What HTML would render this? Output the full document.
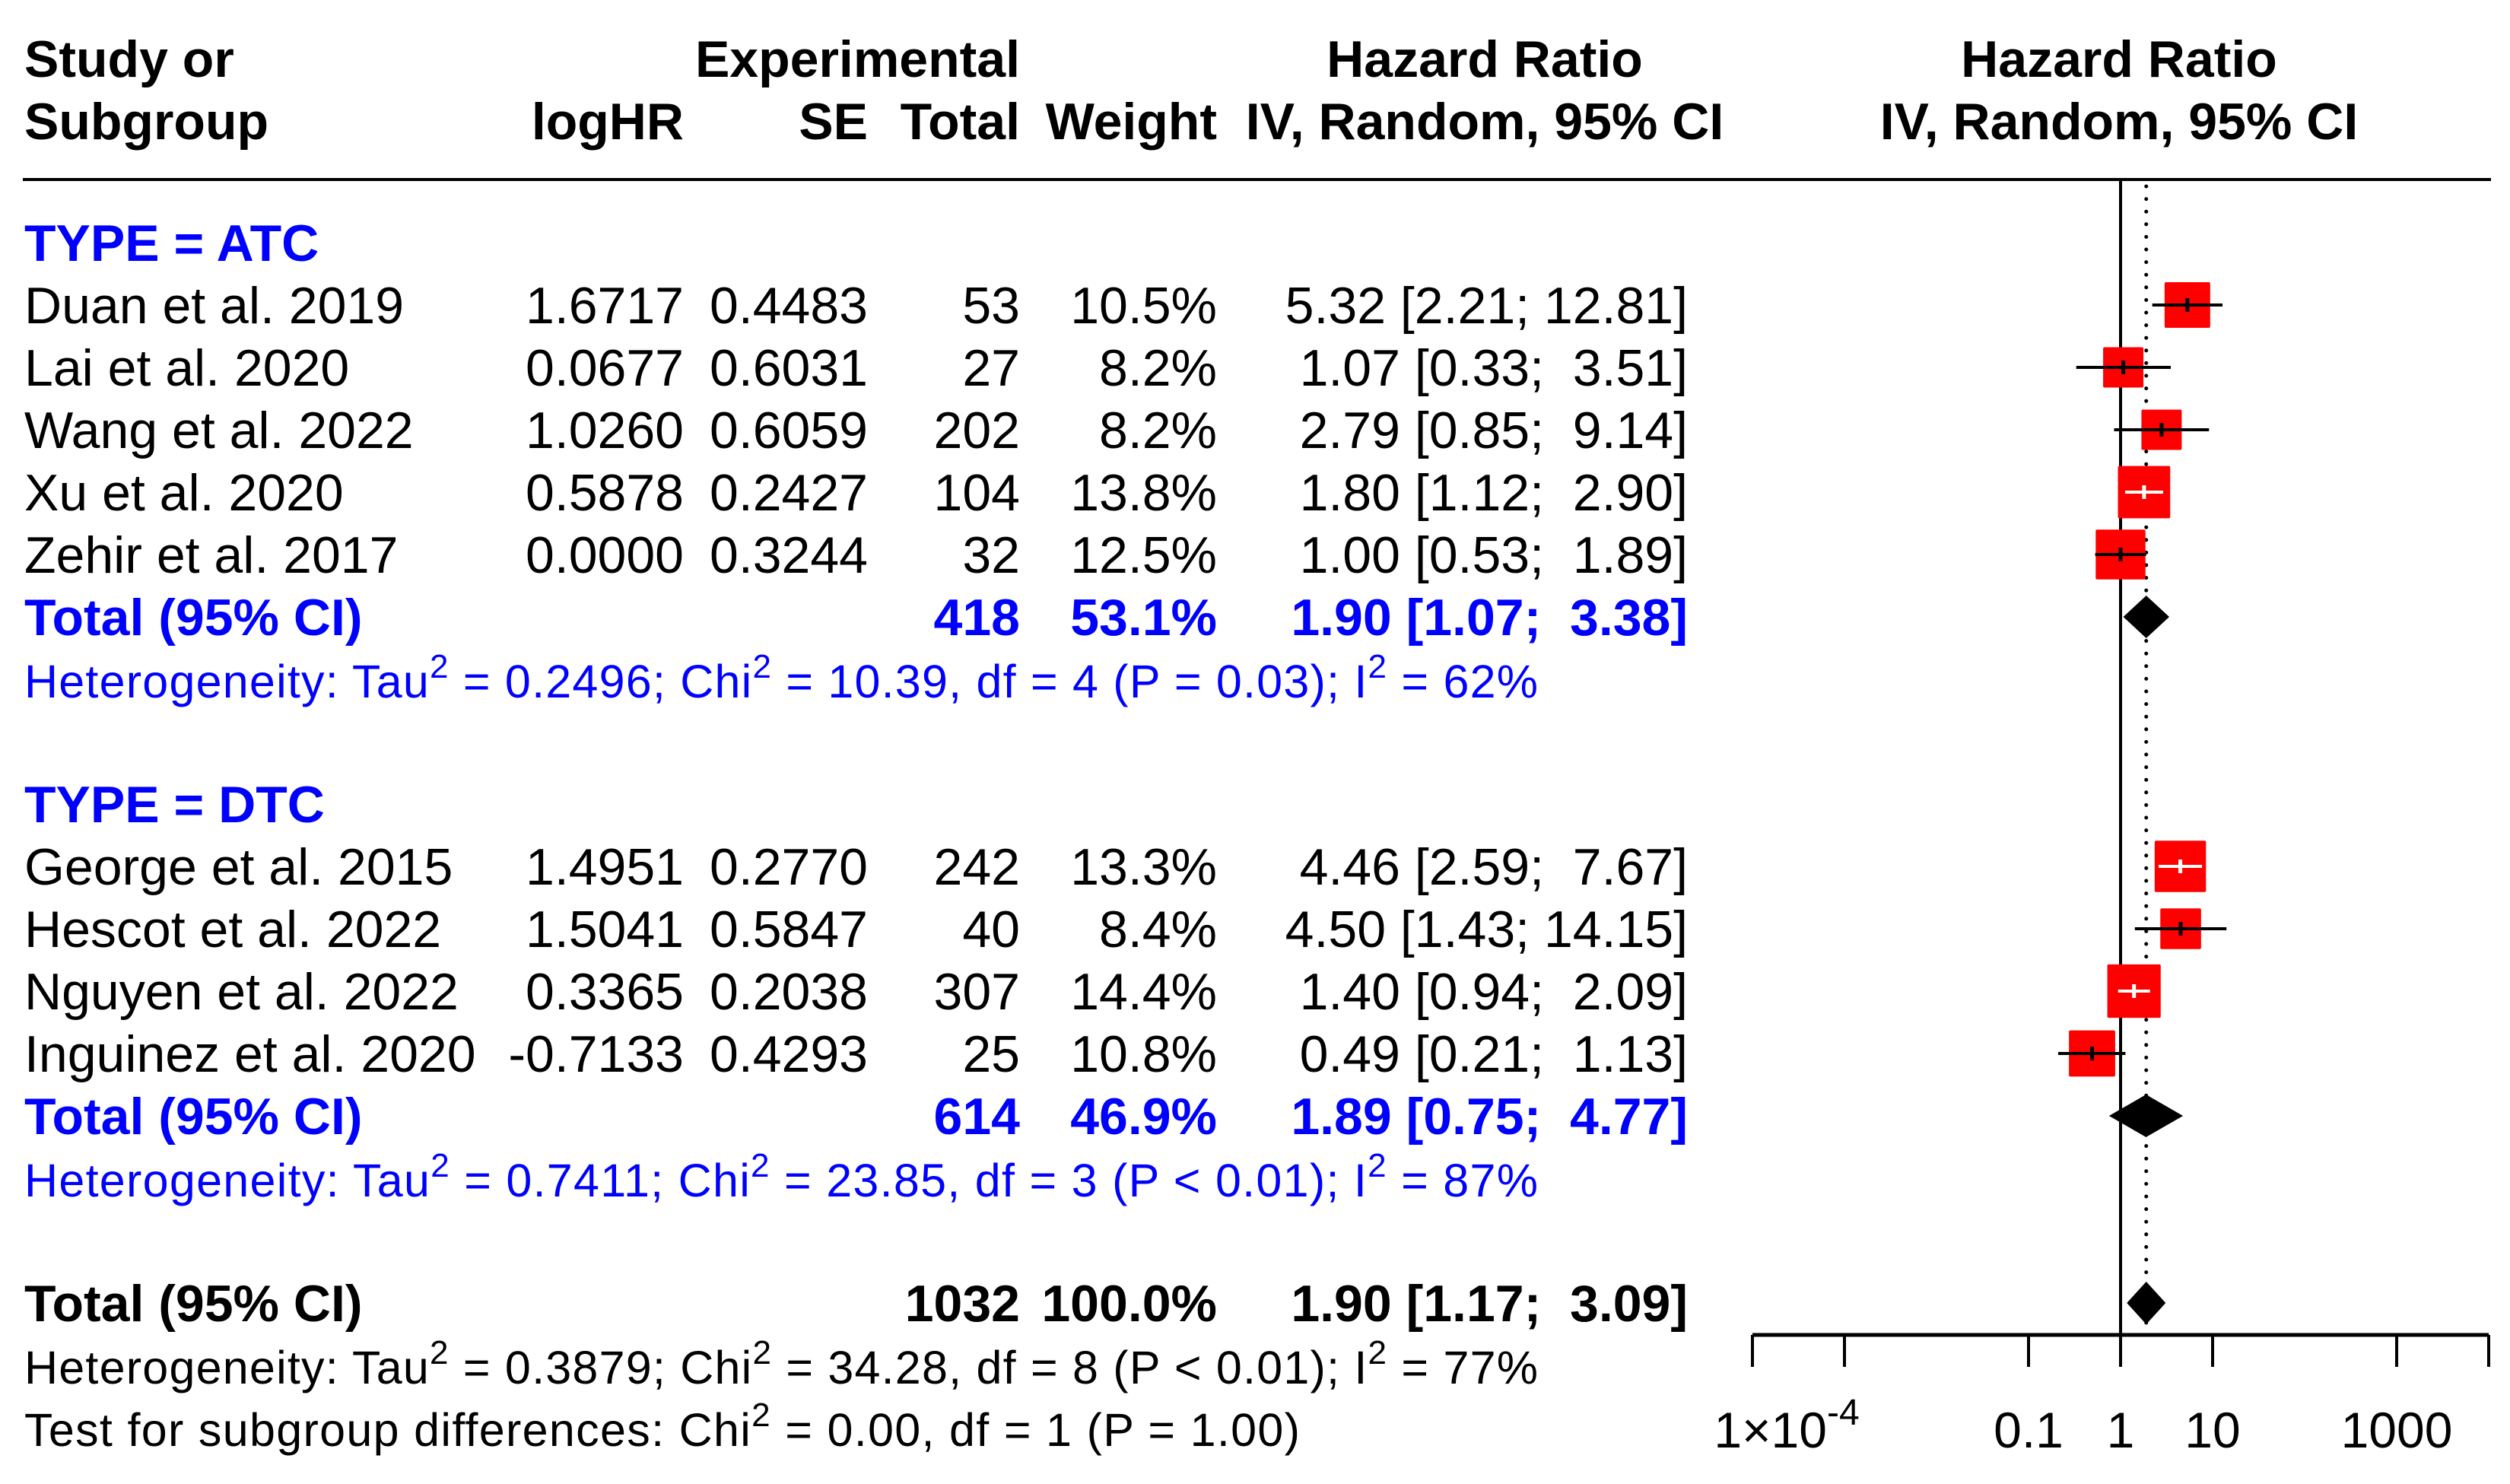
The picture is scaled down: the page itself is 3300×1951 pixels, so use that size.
<!DOCTYPE html>
<html><head><meta charset="utf-8"><style>
html,body{margin:0;padding:0;background:#fff;}
svg{display:block;font-family:"Liberation Sans",Arial,sans-serif;}
</style></head><body>
<svg id="fp" width="3300" height="1951" viewBox="0 0 3300 1951" xmlns="http://www.w3.org/2000/svg"></svg>
<script>
// ---- data ----
const studies = ["Duan et al. 2019","Lai et al. 2020","Wang et al. 2022","Xu et al. 2020","Zehir et al. 2017","George et al. 2015","Hescot et al. 2022","Nguyen et al. 2022","Inguinez et al. 2020"];
const groups = ["ATC","ATC","ATC","ATC","ATC","DTC","DTC","DTC","DTC"];
const logHR = ["1.6717","0.0677","1.0260","0.5878","0.0000","1.4951","1.5041","0.3365","-0.7133"];
const seVals = ["0.4483","0.6031","0.6059","0.2427","0.3244","0.2770","0.5847","0.2038","0.4293"];
const totals = [53,27,202,104,32,242,40,307,25];
const weights = [10.5,8.2,8.2,13.8,12.5,13.3,8.4,14.4,10.8];
const hr = [5.32,1.07,2.79,1.80,1.00,4.46,4.50,1.40,0.49];
const lo = [2.21,0.33,0.85,1.12,0.53,2.59,1.43,0.94,0.21];
const hi = [12.81,3.51,9.14,2.90,1.89,7.67,14.15,2.09,1.13];
const subNames = ["ATC","DTC"];
const subTotalN = [418,614];
const subWeight = ["53.1%","46.9%"];
const subHR = [1.90,1.89];
const subLo = [1.07,0.75];
const subHi = [3.38,4.77];
const subHet = [["0.2496","10.39","4","P = 0.03","62%"],["0.7411","23.85","3","P < 0.01","87%"]];
const allN = 1032, allHR = 1.90, allLo = 1.17, allHi = 3.09;
const allHet = ["0.3879","34.28","8","P < 0.01","77%"];
const tickVals = [1e-4,1e-3,0.1,1,10,1000,1e4];
const tickLabels = ["1×10","", "0.1","1","10","1000",""];

// ---- layout ----
const svg = document.getElementById('fp');
const NS = "http://www.w3.org/2000/svg";
const X1 = 2788, DEC = 121;
function xs(v){ return X1 + Math.log10(v)*DEC; }
const ROW0 = 343, RH = 82;
function rowY(i){ return ROW0 + i*RH; }
function mk(tag, attrs, parent){ const e=document.createElementNS(NS,tag); for(const k in attrs) e.setAttribute(k,attrs[k]); (parent||svg).appendChild(e); return e; }
function txt(s,x,y,opt){ opt=opt||{}; const t=mk('text',{x:x,y:y,'font-size':opt.fs||68,'font-weight':opt.bold?'bold':'normal',fill:opt.fill||'#000','text-anchor':opt.anchor||'start'}); t.setAttribute('xml:space','preserve'); t.style.whiteSpace='pre'; t.textContent=s; return t; }
function fmtCI(h,l,u){ const pad=v=>{const s=v.toFixed(2); return s.length<5?'  '+s:s;}; return h.toFixed(2)+' ['+l.toFixed(2)+';'+(u.toFixed(2).length<5?'  ':' ')+u.toFixed(2)+']'; }

// headers
let t;
t=txt("Study or",32,101,{bold:1});  
t=txt("Subgroup",32,183,{bold:1});  
t=txt("Experimental",1341,101,{bold:1,anchor:'end'});  
t=txt("logHR",899,183,{bold:1,anchor:'end'});  
t=txt("SE",1141,183,{bold:1,anchor:'end'});  
t=txt("Total",1341,183,{bold:1,anchor:'end'});  
t=txt("Weight",1600,183,{bold:1,anchor:'end'});  
t=txt("Hazard Ratio",1952,101,{bold:1,anchor:'middle'});  
t=txt("IV, Random, 95% CI",1952,183,{bold:1,anchor:'middle'});  
t=txt("Hazard Ratio",2786,101,{bold:1,anchor:'middle'});  
t=txt("IV, Random, 95% CI",2786,183,{bold:1,anchor:'middle'});  
let ln=mk('line',{x1:30,y1:236,x2:3275,y2:236,stroke:'#000','stroke-width':4});
 

// reference lines
ln=mk('line',{x1:X1,y1:236,x2:X1,y2:1755,stroke:'#000','stroke-width':4});
 
ln=mk('line',{x1:xs(allHR),y1:245,x2:xs(allHR),y2:1753,stroke:'#000','stroke-width':5,'stroke-dasharray':'0 16.6','stroke-linecap':'round'});
 

function hetLine(vals,y,fill,name,len){
  const te=mk('text',{x:32,y:y,'font-size':61,fill:fill,textLength:len,lengthAdjust:'spacing'});
  
  
  const parts=[["Heterogeneity: Tau",0],["2",1],[" = "+vals[0]+"; Chi",0],["2",1],[" = "+vals[1]+", df = "+vals[2]+" ("+vals[3]+"); I",0],["2",1],[" = "+vals[4],0]];
  let up=false;
  parts.forEach(p=>{const s=document.createElementNS(NS,'tspan'); s.textContent=p[0];
    if(p[1]){s.setAttribute('font-size',44); s.setAttribute('dy',-26); up=true;}
    else if(up){s.setAttribute('dy',26); up=false;}
    te.appendChild(s);});
}
function diamond(h,l,u,y,name){
  const d=mk('polygon',{points:`${xs(l)},${y} ${xs(h)},${y-28} ${xs(u)},${y} ${xs(h)},${y+28}`,fill:'#000'});
   
}

let idx=0;
subNames.forEach((g,gi)=>{
  const base = gi===0?0:9;
  t=txt("TYPE = "+g,32,rowY(base),{bold:1,fill:'#0000ff'});  
  let r=base+1;
  for(let i=0;i<studies.length;i++){ if(groups[i]!==g) continue;
    const y=rowY(r);
    t=txt(studies[i],32,y);  
    t=txt(logHR[i],899,y,{anchor:'end'});  
    t=txt(seVals[i],1141,y,{anchor:'end'});  
    t=txt(String(totals[i]),1341,y,{anchor:'end'});  
    t=txt(weights[i].toFixed(1)+'%',1600,y,{anchor:'end'});  
    t=txt(fmtCI(hr[i],lo[i],hi[i]),2219,y,{anchor:'end'});  
    const cy=y-24, cx=xs(hr[i]), sz=18.5*Math.sqrt(weights[i]);
    const xl=xs(lo[i]), xh=xs(hi[i]);
    const sq=mk('rect',{x:cx-sz/2,y:cy-sz/2,width:sz,height:sz,fill:'#ff0000',rx:2});
     
    const inside = xl>=cx-sz/2 && xh<=cx+sz/2;
    const col = inside?'#fff':'#000';
    const ci=mk('line',{x1:xl,y1:cy,x2:xh,y2:cy,stroke:col,'stroke-width':4});
     
    const tk=mk('line',{x1:cx,y1:cy-9,x2:cx,y2:cy+9,stroke:col,'stroke-width':5});
     
    r++;
  }
  const ty=rowY(r);
  t=txt("Total (95% CI)",32,ty,{bold:1,fill:'#0000ff'});  
  t=txt(String(subTotalN[gi]),1341,ty,{bold:1,fill:'#0000ff',anchor:'end'});  
  t=txt(subWeight[gi],1600,ty,{bold:1,fill:'#0000ff',anchor:'end'});  
  t=txt(fmtCI(subHR[gi],subLo[gi],subHi[gi]),2219,ty,{bold:1,fill:'#0000ff',anchor:'end'});  
  diamond(subHR[gi],subLo[gi],subHi[gi],ty-24,'subgroup-diamond');
  hetLine(subHet[gi],rowY(r+1),'#0000ff','subgroup-heterogeneity',1990);
});

// overall
const oy=rowY(17);
t=txt("Total (95% CI)",32,oy,{bold:1});  
t=txt(String(allN),1341,oy,{bold:1,anchor:'end'});  
t=txt("100.0%",1600,oy,{bold:1,anchor:'end'});  
t=txt(fmtCI(allHR,allLo,allHi),2219,oy,{bold:1,anchor:'end'});  
diamond(allHR,allLo,allHi,oy-24,'overall-diamond');
hetLine(allHet,rowY(18),'#000','overall-heterogeneity',1990);
const tt=mk('text',{x:32,y:rowY(19),'font-size':61,fill:'#000',textLength:1677,lengthAdjust:'spacing'});


tt.innerHTML='Test for subgroup differences: Chi<tspan font-size="44" dy="-26">2</tspan><tspan dy="26"> = 0.00, df = 1 (P = 1.00)</tspan>';

// axis
ln=mk('line',{x1:xs(tickVals[0]),y1:1755,x2:xs(tickVals[tickVals.length-1]),y2:1755,stroke:'#000','stroke-width':5});
 
tickVals.forEach((v,i)=>{
  const x=xs(v);
  const tk=mk('line',{x1:x,y1:1755,x2:x,y2:1797,stroke:'#000','stroke-width':4});
   
  if(tickLabels[i]){
    if(i===0){
      const lt=mk('text',{x:x+45,y:1903,'font-size':66,'text-anchor':'middle'});
       
      lt.innerHTML='1×10<tspan font-size="48" dy="-30">-4</tspan>';
    } else {
      const lt=txt(tickLabels[i],x,1903,{fs:66,anchor:'middle'});
       
    }
  }
});
</script>
</body></html>
